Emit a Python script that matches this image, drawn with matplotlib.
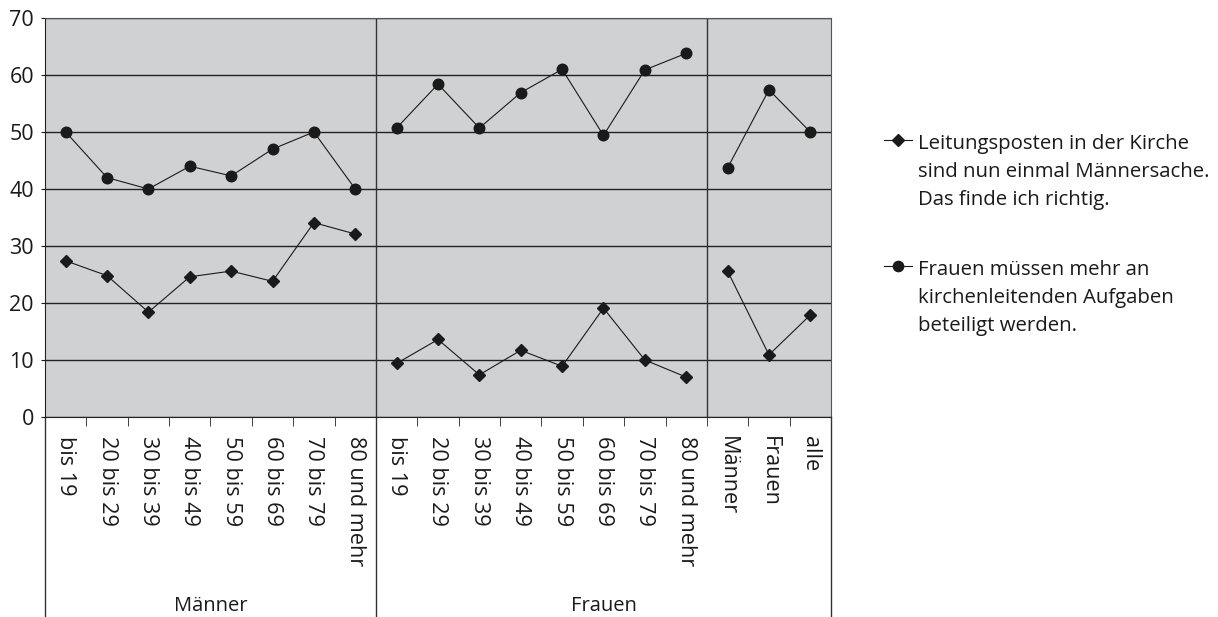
import matplotlib.pyplot as plt
import matplotlib.transforms as mtransforms
from matplotlib.lines import Line2D

plt.rcParams['font.family'] = ['Open Sans', 'DejaVu Sans']

# categories (x axis) and groups
categories = ['bis 19', '20 bis 29', '30 bis 39', '40 bis 49', '50 bis 59', '60 bis 69', '70 bis 79', '80 und mehr',
              'bis 19', '20 bis 29', '30 bis 39', '40 bis 49', '50 bis 59', '60 bis 69', '70 bis 79', '80 und mehr',
              'Männer', 'Frauen', 'alle']
group_names = ['Männer', 'Frauen']
group_bounds = [(0, 8), (8, 19)]
panel_breaks = [8, 16]

# series values (percent)
maennersache = [27.4, 24.8, 18.4, 24.6, 25.6, 23.8, 34.1, 32.1,
                9.4, 13.6, 7.4, 11.7, 8.9, 19.1, 10.0, 7.0,
                25.6, 10.9, 17.9]
frauen_mehr = [50.0, 42.0, 40.0, 44.0, 42.3, 47.0, 50.0, 40.0,
               50.7, 58.4, 50.7, 56.9, 61.0, 49.4, 60.9, 63.8,
               43.7, 57.4, 50.0]

label_1 = 'Leitungsposten in der Kirche\nsind nun einmal Männersache.\nDas finde ich richtig.'
label_2 = 'Frauen müssen mehr an\nkirchenleitenden Aufgaben\nbeteiligt werden.'

W, H = 1218, 617
fig = plt.figure(figsize=(W / 100, H / 100), dpi=100)
ax = fig.add_axes([45 / W, 1 - 417 / H, 786 / W, 399 / H])
ax.set_facecolor('#d0d1d3')

n = len(categories)
xs = [i + 0.5 for i in range(n)]

# one line segment per panel
starts = [0] + panel_breaks
ends = panel_breaks + [n]
for s, e in zip(starts, ends):
    ax.plot(xs[s:e], maennersache[s:e], color='#1a1a1a', lw=0.8, marker='D', ms=6,
            markerfacecolor='#1a1a1a', markeredgecolor='#1a1a1a', zorder=3)
    ax.plot(xs[s:e], frauen_mehr[s:e], color='#1a1a1a', lw=0.8, marker='o', ms=7.6,
            markerfacecolor='#1a1a1a', markeredgecolor='#1a1a1a', zorder=3)

ax.set_xlim(0, n)
ax.set_ylim(0, 70)
ax.set_yticks(range(0, 71, 10))
ax.grid(axis='y', color='#222222', lw=1.0)
ax.set_axisbelow(True)

for b in panel_breaks:
    ax.axvline(b, color='#333333', lw=1.0, zorder=2)

for side in ['top', 'right']:
    ax.spines[side].set_color('#555555')
ax.spines['left'].set_color('#222222')
ax.spines['bottom'].set_color('#222222')

ax.set_xticks(xs)
ax.set_xticklabels(categories, rotation=270, fontsize=15.6, color='#1a1a1a')
ax.set_xticks(range(n + 1), minor=True)
ax.tick_params(axis='x', which='major', length=0, pad=14)
ax.tick_params(axis='x', which='minor', length=6.5, color='#222222')
ax.tick_params(axis='y', length=3, pad=5, labelsize=15.5, colors='#1a1a1a')

# group label area below the axis
trans = mtransforms.blended_transform_factory(ax.transData, ax.transAxes)
bottom_y = -0.51
for b in [0, 8, n]:
    ax.plot([b, b], [0, bottom_y], transform=trans, color='#333333', lw=1.0, clip_on=False)
for name, (s, e) in zip(group_names, group_bounds):
    ax.text((s + e) / 2, -0.474, name, transform=trans, ha='center', va='center',
            fontsize=14.5, color='#1a1a1a')

# legend drawn by hand so the marker sits on the first text line
def fx(px):
    return px / W

def fy(py):
    return 1 - py / H

for y_mark, y_text, mk, ms, lab in [(140, 134, 'D', 6.6, label_1), (266, 260, 'o', 7.4, label_2)]:
    fig.add_artist(Line2D([fx(884), fx(912)], [fy(y_mark), fy(y_mark)], color='#1a1a1a', lw=0.8,
                          transform=fig.transFigure))
    fig.add_artist(Line2D([fx(898)], [fy(y_mark)], marker=mk, ms=ms, color='#1a1a1a',
                          transform=fig.transFigure))
    fig.text(fx(918), fy(y_text), lab, ha='left', va='top', fontsize=14.7, color='#1a1a1a',
             linespacing=1.52)

fig.savefig('out.png', dpi=100)
